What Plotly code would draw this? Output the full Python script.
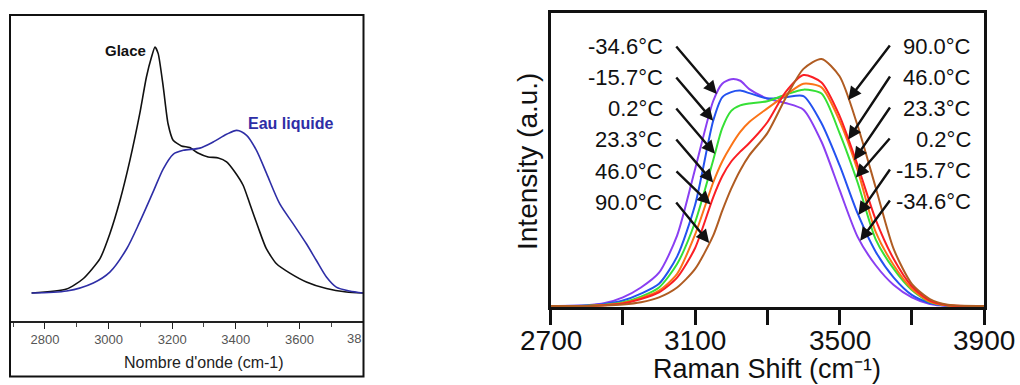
import numpy as np
import plotly.graph_objects as go

W, H = 1020, 385

# ---------------- Left panel data (ice vs liquid water) ----------------
glace_x = [2758, 2868, 2920, 2973, 3004, 3036, 3067, 3098, 3119, 3135, 3146, 3156, 3172, 3187,
           3203, 3229, 3255, 3281, 3313, 3345, 3371, 3397, 3423, 3444, 3470, 3496, 3528, 3570,
           3622, 3685, 3748, 3800]
glace_y = [0.0, 0.016, 0.058, 0.14, 0.241, 0.377, 0.539, 0.729, 0.878, 0.959, 1.0, 0.973, 0.837, 0.688,
           0.621, 0.598, 0.591, 0.569, 0.553, 0.549, 0.533, 0.492, 0.438, 0.363, 0.268, 0.18, 0.119, 0.081,
           0.045, 0.018, 0.004, 0.0]
eau_x = [2758, 2868, 2952, 3004, 3057, 3098, 3140, 3172, 3203, 3235, 3287, 3329, 3371, 3403, 3434,
         3465, 3497, 3538, 3580, 3622, 3653, 3685, 3716, 3758, 3800]
eau_y = [0.0, 0.008, 0.041, 0.085, 0.18, 0.289, 0.411, 0.505, 0.564, 0.58, 0.589, 0.614, 0.645, 0.661, 0.641,
         0.58, 0.485, 0.363, 0.282, 0.2, 0.133, 0.065, 0.024, 0.008, 0.0]
left_ticks = [2800, 3000, 3200, 3400, 3600, 3800]
left_ticktext = ["2800", "3000", "3200", "3400", "3600", ""]

# ---------------- Right panel data (temperature series) ----------------
shift = [2700, 2800, 2850, 2900, 2950, 3000, 3050, 3100, 3150, 3175, 3200, 3225, 3250, 3300, 3350,
         3400, 3450, 3500, 3550, 3600, 3650, 3700, 3750, 3800, 3900]
t_m34_6 = [0, 0.003, 0.012, 0.035, 0.075, 0.135, 0.285, 0.555, 0.83, 0.9, 0.918, 0.912, 0.878, 0.84, 0.822,
           0.795, 0.665, 0.47, 0.28, 0.165, 0.085, 0.035, 0.008, 0.0, 0.0]
t_m15_7 = [0, 0.002, 0.008, 0.022, 0.05, 0.09, 0.2, 0.41, 0.75, 0.845, 0.866, 0.872, 0.862, 0.84, 0.845,
           0.85, 0.74, 0.57, 0.375, 0.22, 0.115, 0.045, 0.012, 0.001, 0]
t_0_2 = [0, 0.001, 0.005, 0.015, 0.038, 0.075, 0.17, 0.34, 0.59, 0.72, 0.79, 0.812, 0.82, 0.829, 0.855,
         0.876, 0.86, 0.70, 0.5, 0.27, 0.15, 0.065, 0.016, 0.002, 0]
t_23_3 = [0, 0.0, 0.004, 0.012, 0.032, 0.062, 0.13, 0.29, 0.5, 0.585, 0.65, 0.705, 0.745, 0.8, 0.853,
          0.9, 0.885, 0.75, 0.55, 0.3, 0.165, 0.07, 0.018, 0.002, 0]
t_46_0 = [0, 0, 0.003, 0.01, 0.028, 0.055, 0.115, 0.235, 0.44, 0.525, 0.585, 0.625, 0.66, 0.744, 0.865,
          0.935, 0.905, 0.77, 0.57, 0.35, 0.19, 0.08, 0.022, 0.003, 0]
t_90_0 = [0, 0, 0.002, 0.006, 0.015, 0.035, 0.075, 0.15, 0.285, 0.385, 0.475, 0.55, 0.61, 0.70, 0.84,
          0.96, 1.0, 0.93, 0.73, 0.48, 0.23, 0.09, 0.028, 0.005, 0]
temp_labels = ["-34.6°C", "-15.7°C", "0.2°C", "23.3°C", "46.0°C", "90.0°C"]
series = [t_m34_6, t_m15_7, t_0_2, t_23_3, t_46_0, t_90_0]
colors = ["#8a3ff2", "#2452f0", "#36e036", "#fb7418", "#fb1f24", "#b05c22"]
right_ticks = [2700, 2900, 3100, 3300, 3500, 3700, 3900]
right_ticktext = ["2700", "", "3100", "", "3500", "", "3900"]

# ---------------- geometry helpers ----------------
def px(xp):
    return xp / W

def py(yp):
    return 1 - yp / H

L_X0, L_X1, L_Y0, L_Y1 = 10, 363, 321, 15      # left plot area (px)
R_X0, R_X1, R_Y0, R_Y1 = 550.7, 984, 307, 13   # right plot area (px)
L_RANGE_X = [2690, 3800]
L_RANGE_Y = [-(L_Y0 - 293) / 246, (293 - L_Y1) / 246]
R_RANGE_X = [2700, 3900]
R_RANGE_Y = [-(R_Y0 - 306) / 247, (306 - R_Y1) / 247]

def rx(xp):
    return R_RANGE_X[0] + (xp - R_X0) / (R_X1 - R_X0) * (R_RANGE_X[1] - R_RANGE_X[0])

def ry(yp):
    return R_RANGE_Y[0] + (R_Y0 - yp) / (R_Y0 - R_Y1) * (R_RANGE_Y[1] - R_RANGE_Y[0])

FONT = "Arial, Liberation Sans, Helvetica, sans-serif"

fig = go.Figure()

# left curves
fig.add_trace(go.Scatter(x=glace_x, y=glace_y, mode="lines", line=dict(color="#111111", width=1.6, shape="spline", smoothing=0.6),
                         xaxis="x", yaxis="y", showlegend=False, hoverinfo="skip"))
fig.add_trace(go.Scatter(x=eau_x, y=eau_y, mode="lines", line=dict(color="#2e2ea6", width=1.6, shape="spline", smoothing=0.8),
                         xaxis="x", yaxis="y", showlegend=False, hoverinfo="skip"))

# right curves
for s, c in zip(series, colors):
    fig.add_trace(go.Scatter(x=shift, y=s, mode="lines", line=dict(color=c, width=2, shape="spline", smoothing=0.7),
                             xaxis="x2", yaxis="y2", showlegend=False, hoverinfo="skip"))

ann = []
# left panel labels
ann.append(dict(x=px(148), y=py(51), xref="paper", yref="paper", text="<b>Glace</b>", showarrow=False,
                xanchor="right", yanchor="middle", font=dict(family=FONT, size=15, color="#111")))
ann.append(dict(x=px(246), y=py(123), xref="paper", yref="paper", text="<b>Eau liquide</b>", showarrow=False,
                xanchor="left", yanchor="middle", font=dict(family=FONT, size=16, color="#2e2ea6")))
ann.append(dict(x=px(204), y=py(362), xref="paper", yref="paper", text="Nombre d'onde (cm-1)", showarrow=False,
                xanchor="center", yanchor="middle", font=dict(family=FONT, size=16, color="#222")))
ann.append(dict(x=px(363), y=py(338), xref="paper", yref="paper", text="38", showarrow=False,
                xanchor="right", yanchor="middle", font=dict(family=FONT, size=13, color="#555")))

# right panel tick labels (placed at the reference height)
for tv, tt in zip(right_ticks, right_ticktext):
    if tt:
        ann.append(dict(x=tv, y=py(340), xref="x2", yref="paper", text=tt, showarrow=False,
                        xanchor="center", yanchor="middle", font=dict(family=FONT, size=28, color="#111")))

# right panel titles
ann.append(dict(x=px(767), y=py(369), xref="paper", yref="paper",
                text="Raman Shift (cm\u207b\u00b9)", showarrow=False,
                xanchor="center", yanchor="middle", font=dict(family=FONT, size=27, color="#111")))
ann.append(dict(x=px(528), y=py(162), xref="paper", yref="paper", text="Intensity (a.u.)", showarrow=False,
                textangle=-90, xanchor="center", yanchor="middle", font=dict(family=FONT, size=28, color="#111")))

# temperature labels and arrows
left_label_y = [46, 77, 108, 139, 171, 202]
left_tip_x = [3160, 3150, 3155, 3150, 3143, 3139]
right_label_y = [46, 77, 108, 139, 170, 201]
right_order = [5, 4, 3, 2, 1, 0]
right_tip_x = [3524, 3524, 3540, 3545, 3552, 3557]

for i in range(6):
    ann.append(dict(x=rx(665), y=ry(left_label_y[i]), xref="x2", yref="y2", text=temp_labels[i], showarrow=False,
                    xanchor="right", yanchor="middle", font=dict(family=FONT, size=22, color="#111")))
    tipy = float(np.interp(left_tip_x[i], shift, series[i]))
    ann.append(dict(x=left_tip_x[i], y=tipy, xref="x2", yref="y2", ax=rx(675), ay=ry(left_label_y[i] - 1),
                    axref="x2", ayref="y2", text="", showarrow=True, arrowhead=2, arrowsize=1.1,
                    arrowwidth=2.4, arrowcolor="#111"))
for j in range(6):
    k = right_order[j]
    ann.append(dict(x=rx(973), y=ry(right_label_y[j]), xref="x2", yref="y2", text=temp_labels[k], showarrow=False,
                    xanchor="right", yanchor="middle", font=dict(family=FONT, size=22, color="#111")))
    tipy = float(np.interp(right_tip_x[j], shift, series[k]))
    ann.append(dict(x=right_tip_x[j], y=tipy, xref="x2", yref="y2", ax=rx(891), ay=ry(right_label_y[j] - 2),
                    axref="x2", ayref="y2", text="", showarrow=True, arrowhead=2, arrowsize=1.1,
                    arrowwidth=2.4, arrowcolor="#111"))

shapes = [dict(type="rect", xref="paper", yref="paper", x0=px(10), x1=px(363.5), y0=py(376.5), y1=py(15),
               line=dict(color="#111", width=2), fillcolor="rgba(0,0,0,0)")]

fig.update_layout(
    width=W, height=H, margin=dict(l=0, r=0, t=0, b=0, autoexpand=False),
    paper_bgcolor="white", plot_bgcolor="white",
    xaxis=dict(domain=[px(L_X0), px(L_X1)], range=L_RANGE_X, anchor="y", automargin=False,
               tickvals=left_ticks, ticktext=left_ticktext, ticks="outside", ticklen=6, tickwidth=1.2,
               tickcolor="#222", showline=True, linecolor="#222", linewidth=1.5, showgrid=False, zeroline=False,
               tickfont=dict(family=FONT, size=13, color="#555"),
               minor=dict(tickvals=[2700, 2900, 3100, 3300, 3500, 3700], ticks="outside", ticklen=4,
                          tickcolor="#444", tickwidth=1, showgrid=False)),
    yaxis=dict(domain=[py(L_Y0), py(L_Y1)], range=L_RANGE_Y, anchor="x", visible=False, automargin=False),
    xaxis2=dict(domain=[px(R_X0), px(R_X1)], range=R_RANGE_X, anchor="y2", automargin=False,
                tickvals=right_ticks, ticktext=right_ticktext, ticks="outside", ticklen=15, tickwidth=3,
                tickcolor="#111", showline=True, mirror=True, linecolor="#111", linewidth=3,
                showgrid=False, zeroline=False, showticklabels=False),
    yaxis2=dict(domain=[py(R_Y0), py(R_Y1)], range=R_RANGE_Y, anchor="x2", showline=True, mirror=True,
                automargin=False, linecolor="#111", linewidth=3, showticklabels=False, ticks="",
                showgrid=False, zeroline=False),
    annotations=ann, shapes=shapes,
)

fig.write_html("out.html")
